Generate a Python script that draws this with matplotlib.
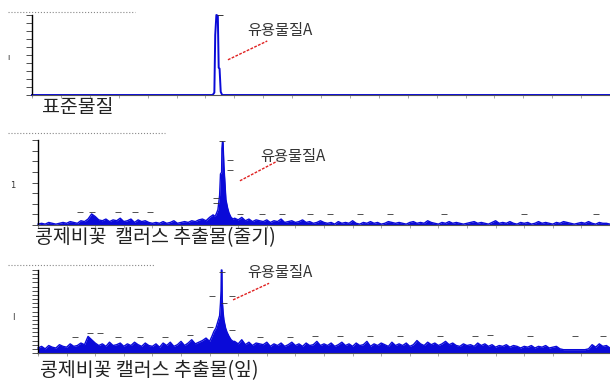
import numpy as np
import matplotlib
matplotlib.use("Agg")
import matplotlib.pyplot as plt
from matplotlib.lines import Line2D

plt.rcParams["font.family"] = ["Noto Sans CJK KR", "DejaVu Sans"]

BLUE = "#0a0ad8"
W, H = 610, 385

# ---- 표준물질: 단일 피크 ----
std_t = [0.0, 6.25, 6.31, 6.34, 6.38, 6.43, 6.46, 6.49, 6.53, 6.58, 20.0]
std_y = [0.0, 0.0, 3, 75, 100, 99, 34, 33, 4, 0.0, 0.0]
std_marks_t = [6.49]
std_marks_y = [100]

# ---- 줄기 추출물: 바탕 노이즈 (0.125 간격) + 피크 ----
stem_noise = [
    1, 2, 1, 3, 2, 1, 2, 3, 2, 4, 3, 2, 5, 4,
    7, 13, 10, 6,
    5, 7, 4, 6, 5, 8, 4, 5, 7, 3, 6, 4, 5, 3,
    2, 3, 2, 4, 2, 3, 5, 2, 3, 4, 3, 5, 4, 6,
    7, 5, 9, 12,
    10, 10, 10, 10, 10,
    8, 6, 9, 5, 7, 4, 6, 5,
    4, 6, 3, 5, 4, 7, 3, 4, 5, 3, 4, 6, 3, 4, 2, 3, 5, 3,
    2, 3, 1, 4, 2, 3, 2, 5, 2, 1, 3, 2, 4, 2, 3, 1, 2, 4, 3, 2,
    3, 2, 1, 3, 4, 2, 3, 2, 5, 3, 2, 1, 3, 2, 4, 2, 3, 2, 1, 2,
    3, 4, 2, 3, 2, 1, 3, 5, 2, 3, 2, 4, 2, 1, 3, 2, 3, 1, 2, 4,
    2, 3, 2, 1, 3, 2, 4, 3, 2, 1, 2, 3, 2, 4, 2, 1, 3, 2, 2, 1,
]
stem_peak_t = [6.15, 6.22, 6.29, 6.35, 6.38, 6.42, 6.43, 6.45, 6.47, 6.49,
               6.50, 6.54, 6.57, 6.63, 6.68, 6.75, 6.82]
stem_peak_y = [10, 12, 18, 35, 60, 62, 90, 98, 97, 80,
               70, 48, 30, 20, 14, 9, 7]
stem_marks_t = [6.43, 6.71, 6.71, 6.22, 6.22, 1.47, 1.89, 2.8, 3.39, 3.9,
                7.06, 7.83, 8.53, 9.5, 10.2, 11.26, 12.3, 14.2, 17.0, 19.5]
stem_marks_y = [99, 76, 65, 32, 26, 15, 15, 15, 15, 15,
                13, 13, 13, 13, 13, 13, 13, 13, 13, 13]

# ---- 잎 추출물 ----
leaf_noise = [
    6, 8, 5, 9, 7, 6, 10, 8, 7, 11, 8, 9, 12, 10,
    20, 16, 12, 9,
    11, 8, 13, 9, 10, 12, 8, 11, 9, 13, 10, 8, 12, 9,
    8, 11, 7, 12, 9, 13, 8, 10, 14, 9, 12, 16, 11, 13,
    15, 18, 14, 22,
    20, 20, 20, 20, 20,
    14, 11, 16, 10, 13, 9, 12, 11,
    10, 13, 8, 11, 9, 12, 8, 10, 13, 9, 11, 8, 12, 9, 10, 14, 9, 11,
    9, 12, 8, 10, 13, 9, 11, 8, 12, 9, 10, 14, 8, 11, 9, 12, 10, 8, 13, 9,
    11, 9, 12, 8, 10, 15, 11, 9, 13, 10, 12, 9, 11, 14, 10, 12, 9, 8, 11, 9,
    10, 8, 12, 9, 11, 8, 10, 7, 9, 8, 10, 7, 9, 8, 6, 8, 7, 9, 6, 8,
    7, 9, 6, 7, 8, 5, 4, 4, 4, 4, 4, 4, 4, 5, 10, 7, 11, 8, 9, 6,
]
leaf_peak_t = [6.08, 6.15, 6.22, 6.29, 6.35, 6.38, 6.40, 6.41, 6.43, 6.44,
               6.47, 6.50, 6.56, 6.61, 6.68, 6.75, 6.82]
leaf_peak_y = [20, 26, 30, 38, 45, 60, 75, 100, 100, 65,
               50, 40, 30, 25, 20, 16, 14]
leaf_marks_t = [6.43, 6.08, 6.78, 6.5, 6.01, 6.78, 1.82, 2.17, 1.29, 2.8,
                3.57, 4.44, 5.31, 7.76, 8.81, 9.69, 10.56, 11.6, 12.66, 14.06,
                15.28, 15.8, 17.2, 18.78, 19.76]
leaf_marks_y = [97, 69, 69, 60, 31, 28, 24, 24, 19, 19,
                19, 19, 22, 19, 19, 20, 20, 20, 20, 20,
                20, 22, 20, 20, 20]

captions = ["표준물질", "콩제비꽃  캘러스 추출물(줄기)", "콩제비꽃 캘러스 추출물(잎)"]
peak_name = "유용물질A"


def merge(noise, pt, py):
    t = np.linspace(0, 20, len(noise))
    y = np.array(noise, dtype=float)
    keep = (t < min(pt)) | (t > max(pt))
    tt = np.concatenate([t[keep], pt])
    yy = np.concatenate([y[keep], py])
    o = np.argsort(tt)
    return tt[o], yy[o]


def px_rect(l, t, r, b):
    return [l / W, 1 - b / H, (r - l) / W, (b - t) / H]


def style_axes(ax, ystep):
    ax.set_xlim(0, 20)
    ax.set_ylim(0, 100)
    for s in ("top", "right"):
        ax.spines[s].set_visible(False)
    ax.spines["left"].set_linewidth(1.0)
    ax.spines["bottom"].set_color("#555555")
    ax.set_xticks(np.arange(0, 20, 1))
    ax.set_xticklabels([])
    ax.tick_params(axis="x", length=2.5, width=0.6, color="#999999")
    ax.set_yticks(np.arange(0, 100.1, ystep))
    ax.set_yticklabels([])
    ax.tick_params(axis="y", length=4, width=0.6, color="#333333")


fig = plt.figure(figsize=(W / 100, H / 100), dpi=100)

ax1 = fig.add_axes(px_rect(32, 15, 610, 95))
ax2 = fig.add_axes(px_rect(38, 140, 610, 225))
ax3 = fig.add_axes(px_rect(38, 270, 610, 353))

# 표준물질
ax1.plot(std_t, std_y, color=BLUE, lw=1.4, clip_on=False)
ax1.scatter(std_marks_t, std_marks_y, marker="_", s=25, color="#333333",
            lw=0.7, clip_on=False, zorder=4)
style_axes(ax1, 10)

# 줄기
t2, y2 = merge(stem_noise, stem_peak_t, stem_peak_y)
ax2.fill_between(t2, 0, y2, color=BLUE, lw=0)
ax2.plot(t2, y2, color=BLUE, lw=1.0, clip_on=False)
ax2.scatter(stem_marks_t, stem_marks_y, marker="_", s=18, color="#333333",
            lw=0.6, clip_on=False, zorder=4)
style_axes(ax2, 12.5)

# 잎
t3, y3 = merge(leaf_noise, leaf_peak_t, leaf_peak_y)
ax3.fill_between(t3, 0, y3, color=BLUE, lw=0)
ax3.plot(t3, y3, color=BLUE, lw=1.0, clip_on=False)
ax3.scatter(leaf_marks_t, leaf_marks_y, marker="_", s=18, color="#333333",
            lw=0.6, clip_on=False, zorder=4)
style_axes(ax3, 5)

# 피크 표시 (텍스트 + 붉은 점선)
ann = [
    (ax1, (0.372, 0.80), (0.339, 0.44), (0.407, 0.675)),
    (ax2, (0.388, 0.81), (0.353, 0.52), (0.418, 0.75)),
    (ax3, (0.365, 0.975), (0.341, 0.64), (0.404, 0.84)),
]
for ax, txy, p0, p1 in ann:
    ax.text(txy[0], txy[1], peak_name, transform=ax.transAxes, fontsize=11,
            color="#333333", va="center", ha="left")
    ax.plot([p0[0], p1[0]], [p0[1], p1[1]], transform=ax.transAxes,
            color="#e02020", lw=1.0, ls=(0, (2, 1)), clip_on=False)

# 캡션
fig.text(42 / W, 1 - 108 / H, captions[0], fontsize=14, color="#222222",
         va="center", ha="left")
fig.text(35 / W, 1 - 238 / H, captions[1], fontsize=14, color="#222222",
         va="center", ha="left")
fig.text(40 / W, 1 - 371 / H, captions[2], fontsize=14, color="#222222",
         va="center", ha="left")

# 세로축 이름 흔적
for x, y, s in [(8, 57, "ı"), (13, 185, "1"), (13, 318, "I")]:
    fig.text(x / W, 1 - y / H, s, fontsize=6, color="#333333",
             ha="center", va="center", family="DejaVu Sans")

# 상단 점선 (원본 제목 흔적)
for y, x1 in [(12, 135), (133, 165), (265, 155)]:
    fig.add_artist(Line2D([8 / W, x1 / W], [1 - y / H, 1 - y / H],
                          color="#888888", lw=0.8, ls=":"))

fig.savefig("out.png", dpi=100)
